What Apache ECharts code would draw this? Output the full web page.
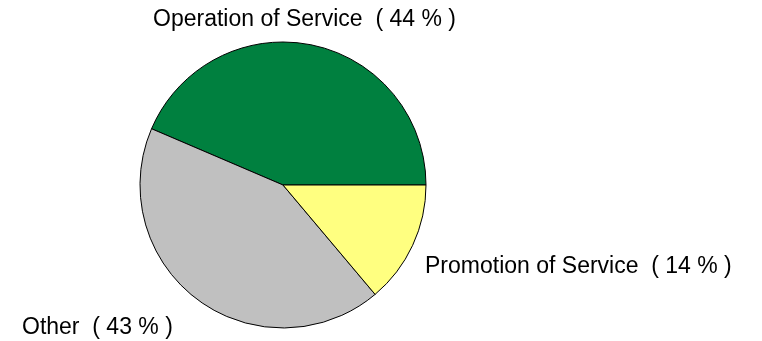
<!DOCTYPE html>
<html>
<head>
<meta charset="utf-8">
<script src="https://cdn.jsdelivr.net/npm/echarts@6/dist/echarts.min.js"></script>
<style>
  html, body { margin: 0; padding: 0; background: #ffffff; }
  #chart { width: 762px; height: 341px; }
</style>
</head>
<body>
<div id="chart"></div>
<script>
// Share of activities, in percent
var categories = ['Operation of Service', 'Other', 'Promotion of Service'];
var shares = [44, 43, 14];
var sliceColors = ['#00803f', '#c0c0c0', '#ffff80'];

// Where each slice label sits (left edge, vertical middle)
var labelSpots = [
  { x: 153, y: 19.5 },
  { x: 22, y: 327.5 },
  { x: 425, y: 267 }
];

var chart = echarts.init(document.getElementById('chart'), null, { renderer: 'canvas' });

var pieData = categories.map(function (name, i) {
  return {
    name: name,
    value: shares[i],
    itemStyle: { color: sliceColors[i] }
  };
});

chart.setOption({
  animation: false,
  backgroundColor: '#ffffff',
  series: [{
    type: 'pie',
    center: [283, 185],
    radius: [0, 143],
    startAngle: 0,
    clockwise: false,
    avoidLabelOverlap: false,
    itemStyle: { borderColor: '#000000', borderWidth: 1 },
    emphasis: { disabled: true },
    label: {
      show: true,
      position: 'outside',
      formatter: function (p) { return p.name + '  ( ' + p.value + ' % )'; },
      fontFamily: '"Liberation Sans", Arial, sans-serif',
      fontSize: 23,
      color: '#000000'
    },
    labelLine: { show: false },
    labelLayout: function (params) {
      var spot = labelSpots[params.dataIndex];
      return { x: spot.x, y: spot.y, align: 'left', verticalAlign: 'middle' };
    },
    data: pieData
  }]
});
</script>
</body>
</html>
